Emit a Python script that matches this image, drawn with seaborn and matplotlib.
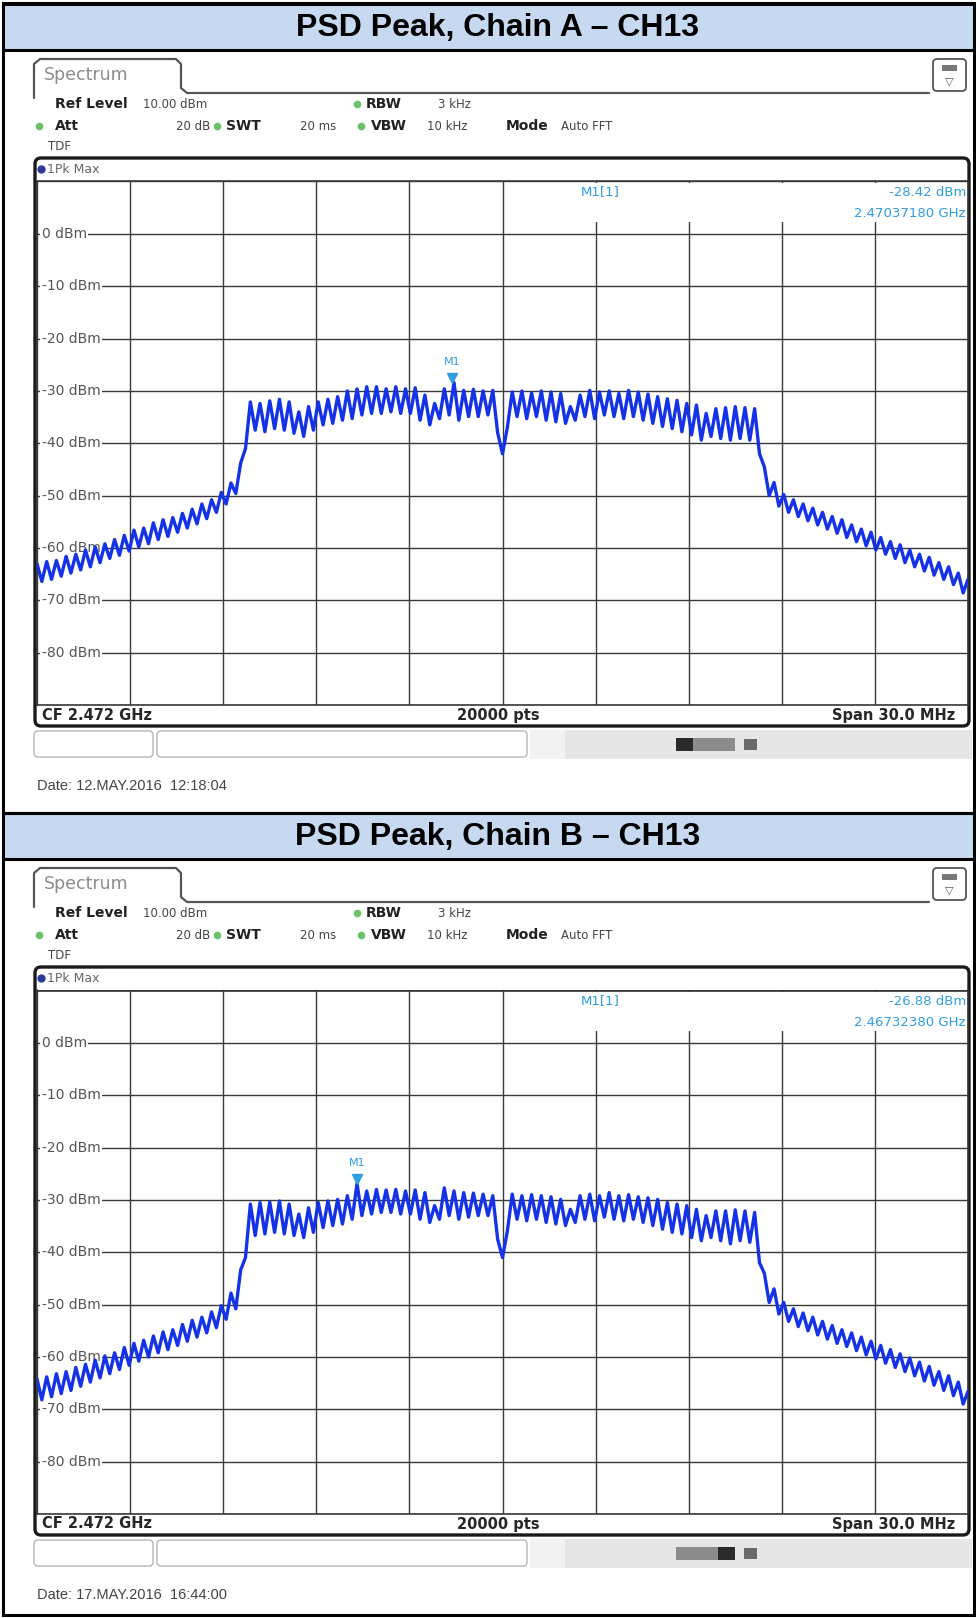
import numpy as np
import pandas as pd
import matplotlib
matplotlib.use("Agg")
import matplotlib.pyplot as plt
import seaborn as sns
from matplotlib.patches import FancyBboxPatch, Rectangle

# trace readings in dBm.
# one peak per 312.5 kHz subcarrier (-15 .. +15 MHz), one trough between neighbours
peaks_a = [
    -63.0, -62.6, -62.4, -61.6, -61.2, -60.4, -59.8, -59.2, -58.4, -57.6, -56.6,
    -56.2, -55.2, -54.6, -54.2, -53.4, -52.6, -51.6, -50.8, -49.4, -47.6, -43.8,
    -32.1, -32.4, -31.9, -31.6, -32.1, -34.0, -33.0, -32.1, -31.6, -31.1, -30.0,
    -29.6, -29.2, -29.2, -29.6, -29.2, -29.6, -29.4, -30.8, -32.4, -29.6, -28.4,
    -29.9, -29.7, -30.0, -29.9,
    -42.0,
    -30.2, -30.0, -30.4, -30.0, -30.2, -30.5, -33.0, -30.8, -29.9, -30.2, -30.0,
    -30.5, -29.9, -30.2, -30.6, -31.1, -31.5, -31.8, -32.4, -32.7, -34.3, -33.4,
    -33.2, -33.0, -33.2, -33.4,
    -44.5, -47.5, -49.8, -50.8, -51.6, -52.4, -53.2, -54.0, -54.6, -55.6, -56.4,
    -57.0, -58.0, -58.8, -59.4, -60.4, -61.2, -61.8, -62.8, -63.6, -64.8, -66.0,
]
troughs_a = [
    -66.4, -66.0, -65.4, -64.8, -64.2, -63.6, -62.8, -62.0, -61.4, -60.6, -59.8,
    -59.2, -58.4, -57.8, -57.0, -56.2, -55.4, -54.4, -53.2, -51.6, -49.6, -41.0,
    -37.5, -37.8, -37.2, -37.5, -38.1, -38.7, -37.5, -36.5, -36.2, -35.6, -35.3,
    -34.6, -34.3, -34.3, -34.0, -34.3, -34.3, -35.6, -36.5, -35.3, -34.6, -35.6,
    -34.9, -34.9, -34.6, -38.0,
    -37.0,
    -34.9, -35.3, -34.9, -35.6, -35.9, -36.2, -35.6, -34.9, -35.3, -34.6, -34.9,
    -35.3, -34.9, -35.6, -36.2, -36.8, -37.2, -37.8, -38.4, -39.4, -38.7, -39.1,
    -39.4, -39.1, -39.4, -42.0,
    -50.0, -52.0, -53.2, -54.0, -54.8, -55.6, -56.4, -57.2, -58.0, -58.8, -59.6,
    -60.4, -61.2, -62.0, -62.8, -63.6, -64.4, -65.2, -66.0, -67.0, -68.6,
]
peaks_b = [
    -64.2, -63.8, -63.2, -62.8, -62.0, -61.4, -60.6, -59.8, -59.2, -58.2, -57.4,
    -56.8, -56.0, -55.2, -54.8, -53.8, -53.0, -52.4, -51.4, -50.2, -47.8, -43.4,
    -30.8, -30.5, -30.4, -30.2, -30.8, -32.7, -31.5, -30.5, -30.2, -29.9, -29.2,
    -26.9, -28.3, -28.0, -28.1, -28.0, -28.3, -28.1, -28.6, -31.1, -27.7, -28.3,
    -28.6, -28.7, -28.9, -29.2,
    -41.0,
    -28.9, -29.2, -29.0, -29.2, -29.4, -29.9, -31.8, -29.2, -28.9, -29.2, -28.6,
    -29.2, -29.0, -29.4, -29.6, -29.9, -30.5, -30.8, -31.1, -31.8, -33.0, -32.1,
    -32.1, -31.9, -32.1, -32.4,
    -44.0, -47.0, -49.6, -50.8, -51.6, -52.4, -53.2, -54.0, -54.8, -55.4, -56.2,
    -57.0, -57.8, -58.6, -59.4, -60.2, -61.0, -61.8, -62.8, -63.6, -64.8, -66.6,
]
troughs_b = [
    -68.2, -67.6, -67.0, -66.4, -65.6, -64.8, -64.0, -63.2, -62.4, -61.6, -60.8,
    -60.0, -59.2, -58.6, -57.8, -57.0, -56.2, -55.4, -54.4, -52.8, -50.8, -41.0,
    -36.8, -36.5, -36.2, -36.5, -36.8, -37.2, -36.2, -35.3, -34.9, -34.6, -33.7,
    -33.0, -32.7, -32.4, -32.4, -32.7, -32.7, -33.7, -34.3, -33.7, -33.0, -33.7,
    -33.3, -33.0, -33.0, -37.5,
    -36.0,
    -33.7, -34.0, -33.7, -34.3, -34.6, -34.9, -34.3, -33.7, -34.0, -33.3, -33.7,
    -34.0, -33.7, -34.3, -34.9, -35.6, -36.2, -36.5, -37.2, -37.8, -37.2, -37.8,
    -38.4, -37.8, -38.1, -42.0,
    -49.6, -51.8, -53.2, -54.2, -55.0, -55.8, -56.6, -57.4, -58.0, -58.8, -59.6,
    -60.4, -61.2, -62.0, -62.8, -63.6, -64.6, -65.4, -66.4, -67.4, -69.0,
]
assert len(peaks_a) == len(peaks_b) == 97
assert len(troughs_a) == len(troughs_b) == 96

span_start_mhz = -15.0
sample_step_mhz = 0.15625

panel_titles = ["PSD Peak, Chain A \u2013 CH13", "PSD Peak, Chain B \u2013 CH13"]
marker_levels = [-28.42, -26.88]
marker_offsets_mhz = [-1.628, -4.676]
marker_freq_labels = ["2.47037180 GHz", "2.46732380 GHz"]
date_labels = ["Date: 12.MAY.2016  12:18:04", "Date: 17.MAY.2016  16:44:00"]
level_ticks = [0, -10, -20, -30, -40, -50, -60, -70, -80]

W, H = 976, 1618
DY = 809  # second panel sits this many pixels below the first
TRACE = "#1432e6"
MARK = "#2f9ee0"
LED = "#6cc06a"
HEAD = "#444444"


def interleave(peaks, troughs):
    level = np.empty(len(peaks) + len(troughs))
    level[0::2] = peaks
    level[1::2] = troughs
    return level


def rbox(ax, x0, y0, x1, y1, r, **kw):
    ax.add_patch(FancyBboxPatch((x0 + r, y0 + r), x1 - x0 - 2 * r, y1 - y0 - 2 * r,
                                boxstyle=f"round,pad={r}", **kw))


def draw_panel(fig, bg, k, peaks, troughs):
    dy = k * DY

    # title band
    bg.add_patch(Rectangle((3, 4 + dy), 970, 46, facecolor="#c6d9f1", edgecolor="none"))
    bg.plot([3, 973], [4 + dy, 4 + dy], color="black", lw=2.2)
    bg.plot([3, 973], [50 + dy, 50 + dy], color="black", lw=2.2)
    bg.text(498, 28 + dy, panel_titles[k], ha="center", va="center", fontsize=23,
            fontweight="bold", family="Liberation Sans", color="black")

    # "Spectrum" tab and the icon on the right
    tx = [34, 34, 40, 176, 181, 181, 187, 929]
    ty = [98, 64, 59, 59, 64, 88, 93, 93]
    bg.plot(tx, [v + dy for v in ty], color="#555555", lw=1.6, solid_joinstyle="round")
    bg.text(44, 75 + dy, "Spectrum", fontsize=12.5, color="#8c8c8c", va="center")
    rbox(bg, 933, 59 + dy, 966, 91 + dy, 4, facecolor="white", edgecolor="#555555", lw=1.3)
    bg.add_patch(Rectangle((942, 65 + dy), 15, 6, facecolor="#777777", edgecolor="none"))
    bg.text(949.5, 81 + dy, "\u25bd", fontsize=8, color="#555555", ha="center", va="center")

    # settings header
    hdr = [
        (55, 104, "Ref Level", True), (143, 104, "10.00 dBm", False),
        (366, 104, "RBW", True), (438, 104, "3 kHz", False),
        (55, 126, "Att", True), (176, 126, "20 dB", False),
        (226, 126, "SWT", True), (300, 126, "20 ms", False),
        (371, 126, "VBW", True), (427, 126, "10 kHz", False),
        (506, 126, "Mode", True), (561, 126, "Auto FFT", False),
        (48, 146, "TDF", False),
    ]
    for x, y, s, bold in hdr:
        bg.text(x, y + dy, s, fontsize=10 if bold else 8.5, va="center",
                color="#222222" if bold else HEAD,
                fontweight="bold" if bold else "normal")
    for x, y in [(357, 104), (39, 126), (217, 126), (361, 126)]:
        bg.plot(x, y + dy, "o", ms=5.5, color=LED, mec="none")

    # instrument frame
    rbox(bg, 35, 158 + dy, 969, 726 + dy, 6, facecolor="white", edgecolor="#1a1a1a", lw=2.4)
    bg.plot(41, 169 + dy, "o", ms=6, color="#2b3a9c", mec="none")
    bg.text(47, 169 + dy, "1Pk Max", fontsize=9, color="#666666", va="center")
    bg.text(42, 715 + dy, "CF 2.472 GHz", fontsize=10.5, fontweight="bold", va="center")
    bg.text(498, 715 + dy, "20000 pts", fontsize=10.5, fontweight="bold", va="center", ha="center")
    bg.text(955, 715 + dy, "Span 30.0 MHz", fontsize=10.5, fontweight="bold", va="center", ha="right")

    # status strip below the frame
    rbox(bg, 34, 731 + dy, 153, 757 + dy, 4, facecolor="white", edgecolor="#b5b5b5", lw=1)
    rbox(bg, 157, 731 + dy, 527, 757 + dy, 4, facecolor="white", edgecolor="#b5b5b5", lw=1)
    bg.add_patch(Rectangle((530, 730 + dy), 35, 29, facecolor="#f2f2f2", edgecolor="none"))
    bg.add_patch(Rectangle((565, 730 + dy), 407, 29, facecolor="#e6e6e6", edgecolor="none"))
    bg.add_patch(Rectangle((676, 738 + dy), 59, 13, facecolor="#8c8c8c", edgecolor="none"))
    dark_x = 676 if k == 0 else 718
    bg.add_patch(Rectangle((dark_x, 738 + dy), 17, 13, facecolor="#2a2a2a", edgecolor="none"))
    bg.add_patch(Rectangle((744, 739 + dy), 13, 11, facecolor="#6a6a6a", edgecolor="none"))
    bg.text(37, 786 + dy, date_labels[k], fontsize=10.5, color="#444444", va="center",
            family="Liberation Sans")

    # the trace itself
    ax = fig.add_axes([37 / W, 1 - (705 + dy) / H, 931 / W, 523.5 / H])
    n = len(peaks) + len(troughs)
    df = pd.DataFrame({
        "freq": span_start_mhz + sample_step_mhz * np.arange(n),
        "level": interleave(peaks, troughs),
    })
    ax.set_facecolor("white")
    ax.set_axisbelow(True)
    ax.grid(True, color="#3a3a3a", lw=1.0)
    sns.lineplot(data=df, x="freq", y="level", ax=ax, color=TRACE, linewidth=2.4, zorder=3)

    for v in level_ticks:
        ax.text(-14.85, v, f"{v} dBm", fontsize=10, color="#555555", va="center", ha="left",
                zorder=2, bbox=dict(facecolor="white", edgecolor="none", pad=1.2))

    # marker M1
    f0, lv = marker_offsets_mhz[k], marker_levels[k]
    ax.plot([f0], [lv + 0.8], marker="v", ms=6.5, color=MARK, ls="none", zorder=4)
    ax.text(f0, lv + 4.0, "M1", color=MARK, fontsize=8, ha="center", va="center", zorder=4)
    ax.add_patch(Rectangle((578, 183 + dy), 389, 39, transform=bg.transData,
                           facecolor="white", edgecolor="none", zorder=2))
    ax.text(581, 192 + dy, "M1[1]", transform=bg.transData, color=MARK, fontsize=9.5,
            va="center", zorder=5)
    ax.text(966, 192 + dy, f"{lv:.2f} dBm", transform=bg.transData, color=MARK,
            fontsize=9.5, va="center", ha="right", zorder=5)
    ax.text(966, 213 + dy, marker_freq_labels[k], transform=bg.transData, color=MARK,
            fontsize=9.5, va="center", ha="right", zorder=5)

    ax.set_xlim(-15, 15)
    ax.set_ylim(-90, 10)
    ax.set_xticks(np.arange(-15, 16, 3))
    ax.set_yticks(np.arange(-90, 11, 10))
    ax.tick_params(length=0, labelbottom=False, labelleft=False)
    ax.set_xlabel("")
    ax.set_ylabel("")
    for sp in ax.spines.values():
        sp.set_color("#3a3a3a")
        sp.set_linewidth(1.2)
    return ax


def main():
    sns.set_theme(style="white")
    plt.rcParams["font.family"] = ["DejaVu Sans"]

    fig = plt.figure(figsize=(W / 100, H / 100), dpi=100)
    bg = fig.add_axes([0, 0, 1, 1])
    bg.axis("off")

    draw_panel(fig, bg, 0, peaks_a, troughs_a)
    draw_panel(fig, bg, 1, peaks_b, troughs_b)

    bg.plot([3, 973], [813, 813], color="black", lw=2.2)
    bg.add_patch(Rectangle((2.5, 2.5), 971, 1612, fill=False, edgecolor="black", lw=2.2))
    bg.set_xlim(0, W)
    bg.set_ylim(H, 0)

    fig.savefig("out.png", dpi=100)


if __name__ == "__main__":
    main()
